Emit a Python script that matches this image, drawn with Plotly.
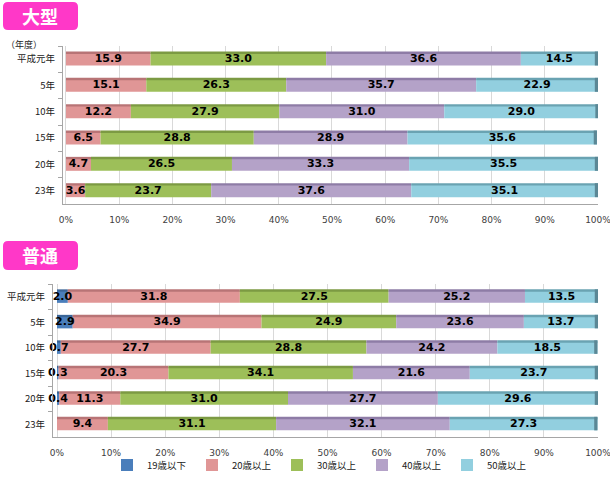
import plotly.graph_objects as go

years = ["平成元年", "5年", "10年", "15年", "20年", "23年"]
series_names = ["19歳以下", "20歳以上", "30歳以上", "40歳以上", "50歳以上"]
colors = ["#4a7ebb", "#e09696", "#9dbf59", "#b4a2c8", "#92cfdf"]
edge_colors = ["#3a6597", "#b87476", "#7c9a43", "#8e7ca6", "#6aa3b2"]

# 大型
large_20 = [15.9, 15.1, 12.2, 6.5, 4.7, 3.6]
large_30 = [33.0, 26.3, 27.9, 28.8, 26.5, 23.7]
large_40 = [36.6, 35.7, 31.0, 28.9, 33.3, 37.6]
large_50 = [14.5, 22.9, 29.0, 35.6, 35.5, 35.1]

# 普通
normal_19 = [2.0, 2.9, 0.7, 0.3, 0.4, 0.0]
normal_20 = [31.8, 34.9, 27.7, 20.3, 11.3, 9.4]
normal_30 = [27.5, 24.9, 28.8, 34.1, 31.0, 31.1]
normal_40 = [25.2, 23.6, 24.2, 21.6, 27.7, 32.1]
normal_50 = [13.5, 13.7, 18.5, 23.7, 29.6, 27.3]

x_tick_vals = list(range(0, 101, 10))
x_tick_text = [f"{v}%" for v in x_tick_vals]

W, H = 610, 486
fig = go.Figure()

LABEL_FONT = dict(family="DejaVu Sans", size=11, color="#000000", weight="bold")
BAR_W = 0.48


def add_chart(series, names, cols, edges, xa, ya, showlegend):
    cum = [0.0] * len(years)
    lx, ly, lt = [], [], []
    for vals, name, col, ec in zip(series, names, cols, edges):
        base = list(cum)
        fig.add_trace(go.Bar(
            x=vals, y=years, base=base, orientation="h", name=name,
            width=BAR_W, offset=-BAR_W / 2,
            marker=dict(color=col, line=dict(width=0)),
            xaxis=xa, yaxis=ya, showlegend=showlegend,
            hoverinfo="skip",
        ))
        # darker top edge (3D look)
        fig.add_trace(go.Bar(
            x=vals, y=years, base=base, orientation="h", name=name,
            width=0.09, offset=-BAR_W / 2 - 0.05,
            marker=dict(color=ec, line=dict(width=0)),
            xaxis=xa, yaxis=ya, showlegend=False,
            hoverinfo="skip",
        ))
        for i, v in enumerate(vals):
            if v > 0:
                lx.append(cum[i] + v / 2)
                ly.append(years[i])
                lt.append(f"{v:.1f}")
            cum[i] += v
    # dark right end cap
    fig.add_trace(go.Bar(
        x=[0.6] * len(years), y=years, base=[c - 0.6 for c in cum], orientation="h",
        width=BAR_W + 0.05, offset=-BAR_W / 2 - 0.05,
        marker=dict(color="#5b8795", line=dict(width=0)),
        xaxis=xa, yaxis=ya, showlegend=False, hoverinfo="skip",
    ))
    fig.add_trace(go.Scatter(
        x=lx, y=ly, text=lt, mode="text", textposition="middle center",
        textfont=LABEL_FONT, xaxis=xa, yaxis=ya, showlegend=False,
        hoverinfo="skip", cliponaxis=False,
    ))


add_chart([normal_19, normal_20, normal_30, normal_40, normal_50],
          series_names, colors, edge_colors, "x2", "y2", True)
add_chart([large_20, large_30, large_40, large_50],
          series_names[1:], colors[1:], edge_colors[1:], "x", "y", False)


def px_x(p):
    return p / W


def px_y(p):
    return 1 - p / H


axis_common = dict(
    tickmode="array", tickvals=x_tick_vals, ticktext=x_tick_text,
    showgrid=True, gridcolor="#d9d9d9", gridwidth=1, zeroline=False,
    showline=True, linecolor="#a6a6a6", linewidth=1,
    tickfont=dict(family="DejaVu Sans", size=9, color="#404040"),
    ticks="", fixedrange=True, ticklabelstandoff=7, ticklabeloverflow="allow",
)
yaxis_common = dict(
    type="category", autorange="reversed", showline=True,
    linecolor="#a6a6a6", linewidth=1, ticks="outside", tickson="boundaries",
    ticklen=4, tickcolor="#a6a6a6", showgrid=False, ticklabelstandoff=5,
    tickfont=dict(family="Noto Sans CJK JP", size=9.5, color="#222222"),
    fixedrange=True,
)

fig.update_layout(
    width=W, height=H,
    margin=dict(l=0, r=0, t=0, b=0, autoexpand=False),
    paper_bgcolor="white", plot_bgcolor="white",
    barmode="overlay",
    xaxis=dict(domain=[px_x(63), px_x(598)], anchor="y", range=[-0.56, 100],
               **axis_common),
    yaxis=dict(domain=[px_y(204), px_y(46)], anchor="x", **yaxis_common),
    xaxis2=dict(domain=[px_x(53), px_x(598)], anchor="y2", range=[-0.74, 100],
                **axis_common),
    yaxis2=dict(domain=[px_y(437), px_y(284)], anchor="x2", **yaxis_common),
    legend=dict(
        orientation="h", x=px_x(107), xanchor="left", y=px_y(465), yanchor="middle",
        font=dict(family="Noto Sans CJK JP", size=9.5, color="#222222"),
        entrywidth=40, entrywidthmode="pixels", traceorder="normal",
        itemwidth=30, bgcolor="rgba(0,0,0,0)",
    ),
    showlegend=True,
)


def rounded_rect(x0, y0, x1, y1, r):
    X0, X1 = px_x(x0), px_x(x1)
    Y0, Y1 = px_y(y0), px_y(y1)
    rx, ry = r / W, r / H
    return (f"M {X0+rx},{Y0} L {X1-rx},{Y0} Q {X1},{Y0} {X1},{Y0-ry} "
            f"L {X1},{Y1+ry} Q {X1},{Y1} {X1-rx},{Y1} L {X0+rx},{Y1} "
            f"Q {X0},{Y1} {X0},{Y1+ry} L {X0},{Y0-ry} Q {X0},{Y0} {X0+rx},{Y0} Z")


for (y0, y1, txt) in [(2, 30, "大型"), (241, 270, "普通")]:
    fig.add_shape(type="path", xref="paper", yref="paper",
                  path=rounded_rect(3, y0, 78, y1, 5),
                  fillcolor="#ff38c8", line=dict(width=0), layer="above")
    fig.add_annotation(x=px_x(40), y=px_y((y0 + y1) / 2), xref="paper", yref="paper",
                       text=txt, showarrow=False, xanchor="center", yanchor="middle",
                       font=dict(family="Noto Sans CJK JP", size=18, color="white",
                                 weight="bold"))

fig.add_annotation(x=px_x(24), y=px_y(45), xref="paper", yref="paper",
                   text="（年度）", showarrow=False, xanchor="center", yanchor="middle",
                   font=dict(family="Noto Sans CJK JP", size=9, color="#222222"))

fig.write_html(
    "out.html",
    config={"displayModeBar": False, "staticPlot": True},
    post_script="document.body.style.margin='0';document.body.style.overflow='hidden';",
)
